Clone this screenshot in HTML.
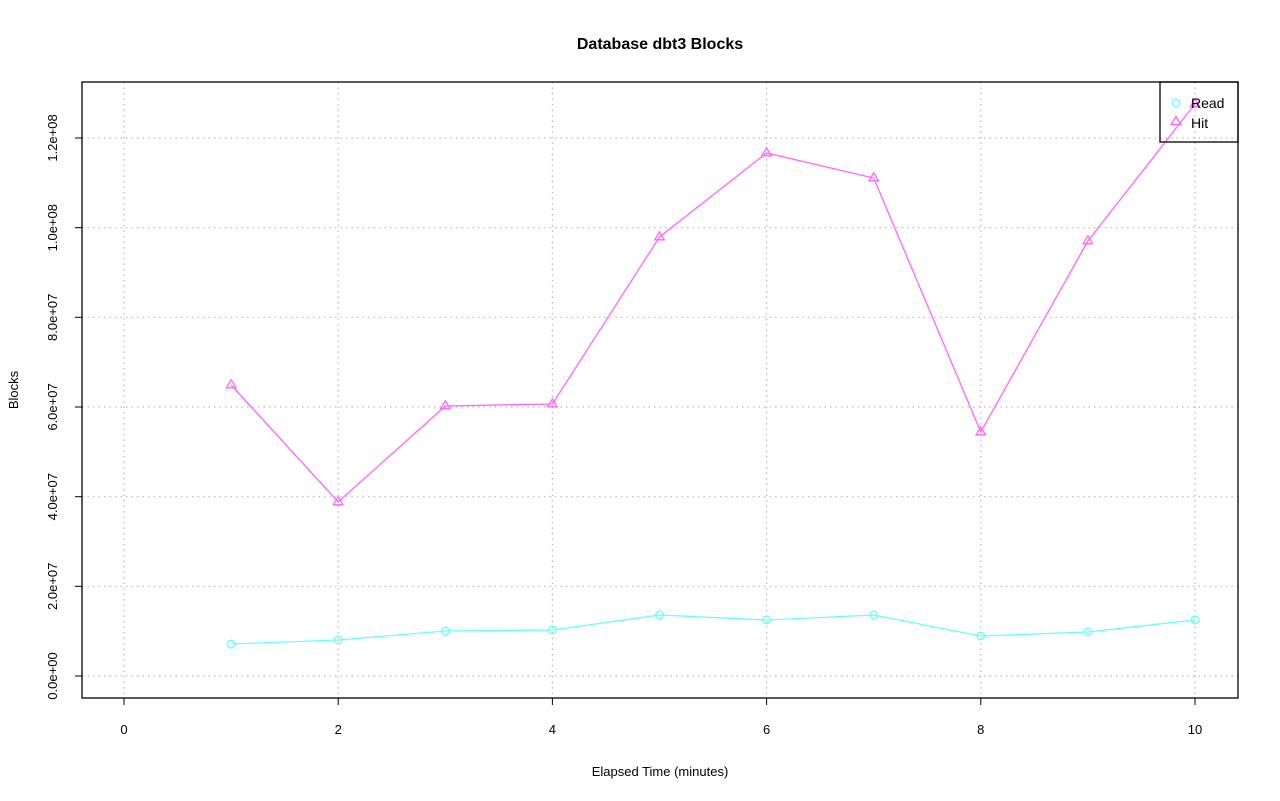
<!DOCTYPE html>
<html><head><meta charset="utf-8"><style>body{margin:0;background:#fff}svg{display:block}text{font-family:"Liberation Sans",sans-serif;fill:#000}</style></head>
<body>
<svg width="1280" height="801" viewBox="0 0 1280 801" xmlns="http://www.w3.org/2000/svg">
<defs>
<marker id="c" markerUnits="userSpaceOnUse" markerWidth="14" markerHeight="14" refX="7" refY="7" overflow="visible"><circle cx="7" cy="7" r="3.8" fill="none" stroke="#66ffff" stroke-width="1.3"/></marker>
<marker id="t" markerUnits="userSpaceOnUse" markerWidth="14" markerHeight="14" refX="7" refY="7" overflow="visible"><polygon points="7,1.8 2.2,9.8 11.8,9.8" fill="none" stroke="#ff66ff" stroke-width="1.3"/></marker>
</defs>
<text x="660" y="49" font-size="16" font-weight="bold" text-anchor="middle">Database dbt3 Blocks</text>
<g stroke="#bbb" stroke-dasharray="1.5,4" stroke-width="1.2">
<line x1="124" y1="82" x2="124" y2="698"/><line x1="338.2" y1="82" x2="338.2" y2="698"/><line x1="552.4" y1="82" x2="552.4" y2="698"/><line x1="766.6" y1="82" x2="766.6" y2="698"/><line x1="980.8" y1="82" x2="980.8" y2="698"/><line x1="1195" y1="82" x2="1195" y2="698"/>
<line x1="82" y1="676" x2="1238" y2="676"/><line x1="82" y1="586.3" x2="1238" y2="586.3"/><line x1="82" y1="496.7" x2="1238" y2="496.7"/><line x1="82" y1="407" x2="1238" y2="407"/><line x1="82" y1="317.3" x2="1238" y2="317.3"/><line x1="82" y1="227.7" x2="1238" y2="227.7"/><line x1="82" y1="138" x2="1238" y2="138"/>
</g>
<polyline fill="none" stroke="#66ffff" stroke-width="1.3" marker-start="url(#c)" marker-mid="url(#c)" marker-end="url(#c)" points="231.1,644 338.2,640 445.3,631 552.4,630 659.5,615 766.6,620 873.7,615 980.8,636 1087.9,632 1195,620"/>
<polyline fill="none" stroke="#ff66ff" stroke-width="1.3" marker-start="url(#t)" marker-mid="url(#t)" marker-end="url(#t)" points="231.1,385 338.2,502 445.3,406 552.4,404 659.5,237 766.6,153 873.7,178 980.8,432 1087.9,241 1195,104"/>
<rect x="82" y="82" width="1156" height="616" fill="none" stroke="#000" stroke-width="1.3"/>
<g stroke="#000" stroke-width="1">
<line x1="124" y1="698" x2="1195" y2="698"/>
<line x1="124" y1="698" x2="124" y2="705"/><line x1="338.2" y1="698" x2="338.2" y2="705"/><line x1="552.4" y1="698" x2="552.4" y2="705"/><line x1="766.6" y1="698" x2="766.6" y2="705"/><line x1="980.8" y1="698" x2="980.8" y2="705"/><line x1="1195" y1="698" x2="1195" y2="705"/>
<line x1="82" y1="676" x2="82" y2="138"/>
<line x1="75" y1="676" x2="82" y2="676"/><line x1="75" y1="586.3" x2="82" y2="586.3"/><line x1="75" y1="496.7" x2="82" y2="496.7"/><line x1="75" y1="407" x2="82" y2="407"/><line x1="75" y1="317.3" x2="82" y2="317.3"/><line x1="75" y1="227.7" x2="82" y2="227.7"/><line x1="75" y1="138" x2="82" y2="138"/>
</g>
<g font-size="13" text-anchor="middle">
<text x="124" y="734">0</text><text x="338.2" y="734">2</text><text x="552.4" y="734">4</text><text x="766.6" y="734">6</text><text x="980.8" y="734">8</text><text x="1195" y="734">10</text>
<text x="660" y="776">Elapsed Time (minutes)</text>
<text transform="translate(57,676) rotate(-90)">0.0e+00</text>
<text transform="translate(57,586.3) rotate(-90)">2.0e+07</text>
<text transform="translate(57,496.7) rotate(-90)">4.0e+07</text>
<text transform="translate(57,407) rotate(-90)">6.0e+07</text>
<text transform="translate(57,317.3) rotate(-90)">8.0e+07</text>
<text transform="translate(57,227.7) rotate(-90)">1.0e+08</text>
<text transform="translate(57,138) rotate(-90)">1.2e+08</text>
<text transform="translate(18,390) rotate(-90)">Blocks</text>
</g>
<rect x="1160" y="82" width="78" height="60" fill="none" stroke="#000" stroke-width="1.3"/>
<circle cx="1176" cy="103" r="3.8" fill="none" stroke="#66ffff" stroke-width="1.3"/>
<polygon points="1176,116.5 1171.2,124.5 1180.8,124.5" fill="none" stroke="#ff66ff" stroke-width="1.3"/>
<text x="1191" y="108" font-size="14">Read</text>
<text x="1191" y="128" font-size="14">Hit</text>
</svg>
</body></html>
